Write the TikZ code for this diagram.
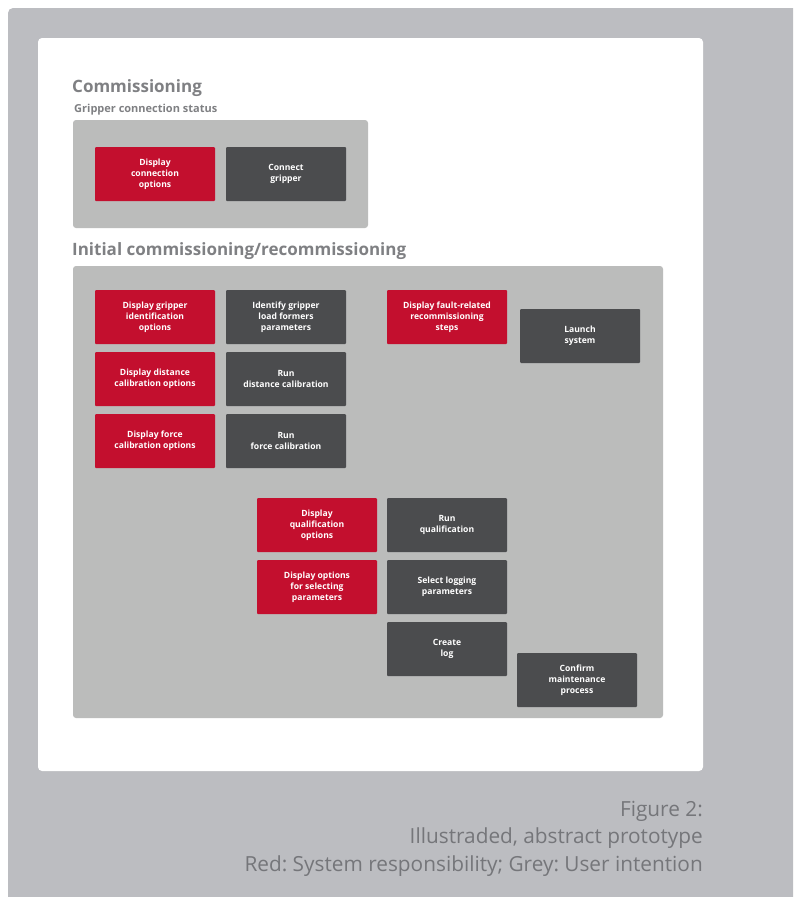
\documentclass[tikz,border=0pt]{standalone}
\usepackage{fontspec}
\setmainfont{Open Sans}
\usepackage{xcolor}
\usepackage{tikz}
\usetikzlibrary{positioning}
\definecolor{PtFrame}{HTML}{BCBDC1}
\definecolor{PtPanel}{HTML}{FFFFFF}
\definecolor{PtGroup}{HTML}{BBBCBB}
\definecolor{PtRed}{HTML}{C30F2E}
\definecolor{PtDark}{HTML}{4B4C4E}
\definecolor{PtTitle}{HTML}{7F8083}
\definecolor{PtCaption}{HTML}{75767A}
\colorlet{PtSystem}{PtRed}
\colorlet{PtUser}{PtDark}
\frenchspacing

\begin{document}
\begin{tikzpicture}[x=1pt, y=-1pt,
    task/.style={rectangle, rounded corners=1pt, text=white, align=center,
      minimum width=120pt, minimum height=54pt, inner sep=2pt, outer sep=0pt,
      font=\bfseries\fontsize{8.6}{11}\selectfont},
    sysbox/.style={task, fill=PtSystem},
    userbox/.style={task, fill=PtUser},
    group/.style={fill=PtGroup, rounded corners=3pt},
    heading/.style={anchor=base west, inner sep=0pt, text=PtTitle,
      font=\bfseries\fontsize{17}{20}\selectfont},
    subheading/.style={anchor=base west, inner sep=0pt, text=PtTitle,
      font=\bfseries\fontsize{11}{13}\selectfont},
    node distance=8pt and 11pt]
  \useasboundingbox (0,0) rectangle (793,897);
  \clip (0,0) rectangle (793,897);

  % frame and white sheet
  \fill[PtFrame, rounded corners=5pt] (8,8) rectangle (820,920);
  \fill[PtPanel, rounded corners=4pt] (38,38) rectangle (703,771);

  % commissioning
  \node[heading] (commtitle) at (72,92) {Commissioning};
  \node[subheading] (gripstatus) at (74,112) {Gripper connection status};
  \fill[group] (73,120) rectangle (368,228);
  \node[sysbox] (connopts) at (155,174) {Display\\connection\\options};
  \node[userbox, right=of connopts] (connect) {Connect\\gripper};

  % initial commissioning / recommissioning
  \node[heading] (inittitle) at (72,255) {Initial commissioning/recommissioning};
  \fill[group] (73,266) rectangle (663,718);
  \node[sysbox] (idopts) at (155,317) {Display gripper\\identification\\options};
  \node[userbox, right=of idopts] (idgrip) {Identify gripper\\load formers\\parameters};
  \node[sysbox, below=of idopts] (distopts) {Display distance\\calibration options};
  \node[userbox, right=of distopts] (rundist) {Run\\distance calibration};
  \node[sysbox, below=of distopts] (forceopts) {Display force\\calibration options};
  \node[userbox, right=of forceopts] (runforce) {Run\\force calibration};

  \node[sysbox] (faultsteps) at (447,317) {Display fault-related\\recommissioning\\steps};
  \node[userbox] (launch) at (580,336) {Launch\\system};

  \node[sysbox] (qualopts) at (317,525) {Display\\qualification\\options};
  \node[userbox, right=10pt of qualopts] (runqual) {Run\\qualification};
  \node[sysbox, below=of qualopts] (selopts) {Display options\\for selecting\\parameters};
  \node[userbox, right=10pt of selopts] (logparams) {Select logging\\parameters};
  \node[userbox, below=of logparams] (createlog) {Create\\log};
  \node[userbox] (confirm) at (577,680) {Confirm\\maintenance\\process};

  % caption
  \node[anchor=north east, inner sep=0pt, align=right, text=PtCaption,
        font=\fontsize{20.8}{27.5}\selectfont] (caption) at (703,801)
    {Figure 2:\\Illustraded, abstract prototype\\Red: System responsibility; Grey: User intention};
\end{tikzpicture}
\end{document}
